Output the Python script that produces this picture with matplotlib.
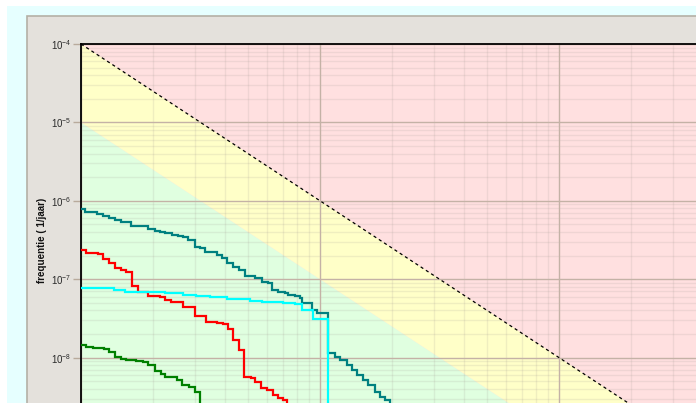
import numpy as np
import matplotlib
matplotlib.use("Agg")
import matplotlib.pyplot as plt
from matplotlib.patches import Rectangle
from matplotlib.ticker import LogLocator, NullFormatter, LogFormatterSciNotation

plt.rcParams['font.family'] = ['Liberation Sans', 'DejaVu Sans']
plt.rcParams['mathtext.fontset'] = 'custom'
plt.rcParams['mathtext.rm'] = 'Liberation Sans'
plt.rcParams['mathtext.it'] = 'Liberation Sans:italic'
plt.rcParams['mathtext.bf'] = 'Liberation Sans:bold'
plt.rcParams['mathtext.default'] = 'regular'

# Norm lines: F = C / N^2
upper_norm = 1e-4
lower_norm = 1e-5

# FN curves (number of victims N, cumulative frequency F per year)
teal_n = [1.00, 1.042, 1.17, 1.236, 1.306, 1.384, 1.466, 1.622, 1.905, 2.032, 2.133, 2.254,
          2.404, 2.547, 2.673, 2.805, 2.992, 3.141, 3.304, 3.698, 3.882, 4.093, 4.335, 4.592,
          4.853, 5.346, 5.702, 6.081, 6.281, 6.699, 7.145, 7.362, 7.852, 8.241, 8.375, 9.226,
          9.683, 10.84, 11.56, 12.13, 12.94, 13.58, 14.26, 15.17, 15.92, 16.98, 17.82, 18.71]
teal_f = [7.80e-7, 7.13e-7, 6.79e-7, 6.40e-7, 5.98e-7, 5.69e-7, 5.41e-7, 4.78e-7, 4.33e-7,
          4.16e-7, 4.04e-7, 3.85e-7, 3.70e-7, 3.56e-7, 3.42e-7, 3.16e-7, 2.60e-7, 2.48e-7,
          2.24e-7, 2.04e-7, 1.85e-7, 1.60e-7, 1.44e-7, 1.31e-7, 1.10e-7, 1.03e-7, 9.29e-8,
          8.87e-8, 7.28e-8, 6.93e-8, 6.61e-8, 6.28e-8, 6.11e-8, 5.70e-8, 5.01e-8, 4.05e-8,
          3.72e-8, 1.15e-8, 1.03e-8, 9.31e-9, 8.05e-9, 6.95e-9, 6.00e-9, 5.18e-9, 4.48e-9,
          3.67e-9, 3.17e-9, 2.88e-9]
teal_end = (19.63, 2.14e-9)

cyan_n = [1.00, 1.380, 1.535, 2.239, 2.673, 3.034, 3.467, 4.074, 5.093, 5.702, 7.015, 7.852,
          8.375, 9.333]
cyan_f = [7.83e-8, 7.28e-8, 6.87e-8, 6.61e-8, 6.28e-8, 6.11e-8, 5.98e-8, 5.55e-8, 5.32e-8,
          5.16e-8, 5.01e-8, 4.83e-8, 4.05e-8, 3.09e-8]
cyan_end = (10.84, 1e-12)

red_n = [1.00, 1.052, 1.178, 1.236, 1.306, 1.384, 1.466, 1.549, 1.641, 1.730, 1.905, 2.133,
         2.254, 2.388, 2.673, 2.992, 3.319, 3.698, 3.936, 4.130, 4.335, 4.592, 4.831, 5.129,
         5.346, 5.649, 5.984, 6.339, 6.699, 7.015]
red_f = [2.36e-7, 2.18e-7, 2.09e-7, 1.79e-7, 1.60e-7, 1.38e-7, 1.31e-7, 1.25e-7, 8.18e-8,
         6.87e-8, 6.05e-8, 5.87e-8, 5.43e-8, 5.16e-8, 4.36e-8, 3.40e-8, 2.87e-8, 2.74e-8,
         2.66e-8, 2.34e-8, 1.67e-8, 1.25e-8, 5.74e-9, 5.45e-9, 4.93e-9, 4.06e-9, 3.86e-9,
         3.33e-9, 3.08e-9, 2.84e-9]
red_end = (7.278, 2.14e-9)

green_n = [1.00, 1.052, 1.122, 1.247, 1.309, 1.384, 1.466, 1.549, 1.702, 1.816, 1.905, 2.032,
           2.153, 2.254, 2.523, 2.655, 2.831, 2.992]
green_f = [1.45e-8, 1.38e-8, 1.32e-8, 1.28e-8, 1.19e-8, 1.03e-8, 9.68e-9, 9.31e-9, 9.06e-9,
           8.87e-9, 8.05e-9, 6.81e-9, 6.18e-9, 5.70e-9, 5.18e-9, 4.48e-9, 4.26e-9, 3.67e-9]
green_end = (3.133, 1e-12)

y_label = 'frequentie ( 1/jaar)'

W, H = 696, 403
fig = plt.figure(figsize=(W / 100, H / 100), dpi=100, facecolor='white')


def frame(x, y, w, h, **kw):
    """Rectangle in pixel units measured from the top-left corner."""
    fig.patches.append(Rectangle((x / W, 1 - (y + h) / H), w / W, h / H,
                                 transform=fig.transFigure, figure=fig, zorder=-5, **kw))


frame(7, 6, W, H, facecolor='#e6ffff', edgecolor='none')
frame(27, 16, W, H, facecolor='#e4e1dc', edgecolor='#b4b0a6', lw=1.2)

# plot area reaches past the right and bottom edges of the canvas
y_min_exp, y_max_exp = -8.6, -4.0
dec_y = 78.4
top_px = 44
bottom_px = top_px + (y_max_exp - y_min_exp) * dec_y
ax = fig.add_axes([81 / W, 1 - bottom_px / H, 956 / W, (bottom_px - top_px) / H])
ax.set_zorder(5)
ax.set_xscale('log')
ax.set_yscale('log')
ax.set_xlim(1, 1e4)
ax.set_ylim(10 ** y_min_exp, 10 ** y_max_exp)
ax.set_facecolor('#ffe0e0')

x = np.logspace(0, 4, 400)
f_upper = upper_norm / x ** 2
f_lower = lower_norm / x ** 2
ax.fill_between(x, 1e-12, f_lower, color='#e0ffe0', lw=0, zorder=0.5)
ax.fill_between(x, f_lower, f_upper, color='#ffffc8', lw=0, zorder=0.5)
ax.plot(x, f_upper, color='black', lw=0.9, ls=(0, (2.5, 2.5)), zorder=3)

for axis in (ax.xaxis, ax.yaxis):
    axis.set_major_locator(LogLocator(base=10, numticks=30))
    axis.set_minor_locator(LogLocator(base=10, subs=np.arange(2, 10), numticks=30))
    axis.set_minor_formatter(NullFormatter())
ax.yaxis.set_major_formatter(LogFormatterSciNotation())

# light grid for sub-decades, darker lines at each decade
for v in ax.yaxis.get_minorticklocs():
    ax.axhline(v, color='#a09690', alpha=0.16, lw=1.0, zorder=1)
for v in ax.xaxis.get_minorticklocs():
    ax.axvline(v, color='#a09690', alpha=0.16, lw=1.0, zorder=1)
for v in ax.yaxis.get_majorticklocs():
    ax.axhline(v, color='#c4b2a6', lw=1.0, zorder=1.2)
for v in ax.xaxis.get_majorticklocs():
    ax.axvline(v, color='#c4b2a6', lw=1.0, zorder=1.2)
ax.set_xlim(1, 1e4)
ax.set_ylim(10 ** y_min_exp, 10 ** y_max_exp)

ax.tick_params(axis='y', which='major', length=6, width=1, color='#b8aa9c',
               labelsize=7, labelcolor='#2a2a2a', pad=1)
ax.tick_params(axis='y', which='minor', length=0)
ax.tick_params(axis='x', which='both', length=0, labelbottom=False)
for side in ('left', 'top'):
    ax.spines[side].set_color('black')
    ax.spines[side].set_linewidth(1.3)
for side in ('right', 'bottom'):
    ax.spines[side].set_visible(False)


def draw_steps(n, f, end, color):
    ax.plot(list(n) + [end[0]], list(f) + [end[1]], drawstyle='steps-post',
            color=color, lw=1.6, zorder=4, solid_joinstyle='miter')


draw_steps(teal_n, teal_f, teal_end, '#008080')
draw_steps(red_n, red_f, red_end, '#ff0000')
draw_steps(green_n, green_f, green_end, '#008000')
draw_steps(cyan_n, cyan_f, cyan_end, '#00ffff')

fig.text(42 / W, 1 - 240 / H, y_label, rotation=90, fontsize=7, fontweight='bold',
         ha='center', va='center', color='#111111')

fig.savefig('out.png', dpi=100, facecolor=fig.get_facecolor())
